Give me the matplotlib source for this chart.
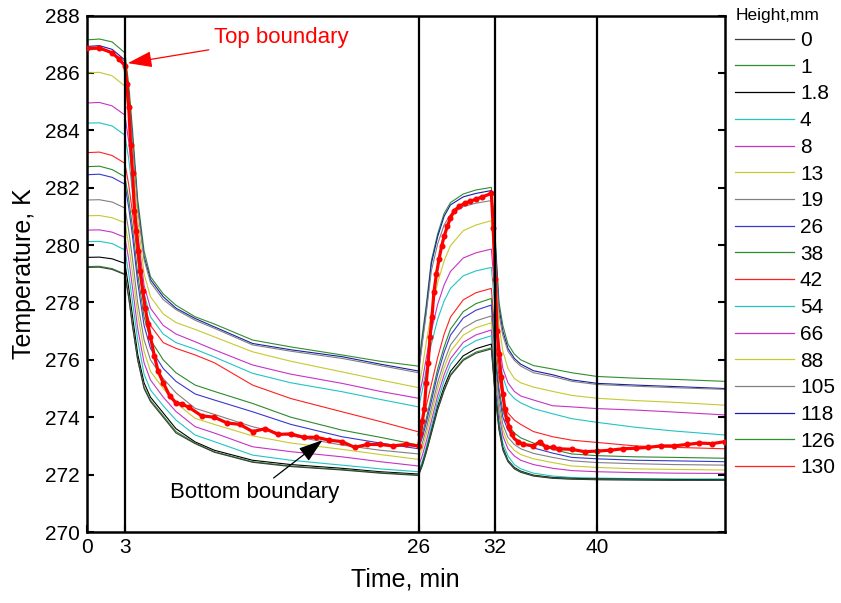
import matplotlib
matplotlib.use('Agg')
import matplotlib.pyplot as plt
from matplotlib.lines import Line2D

plt.rcParams['font.family'] = ['Liberation Sans', 'DejaVu Sans']

# ---------------- data ----------------
time_min = [0, 1, 2, 3, 3.3, 3.6, 4, 4.5, 5, 6, 7, 8.5, 10, 13, 16, 20, 23, 26,
            26.3, 26.6, 27, 27.5, 28, 28.5, 29.5, 30.5, 31.7,
            32, 32.3, 32.6, 33, 33.5, 34, 35, 36.5, 38, 40, 43, 46, 50]

temp_h0 = [279.22, 279.23, 279.15, 278.97, 278.15, 277.15, 276.0, 275.0, 274.55, 274.0, 273.45, 273.08, 272.78, 272.43, 272.28, 272.16, 272.05, 271.97,
           272.32, 272.76, 273.43, 274.26, 274.92, 275.45, 275.98, 276.23, 276.38,
           274.75, 273.55, 272.85, 272.45, 272.2, 272.08, 271.95, 271.87, 271.84, 271.82, 271.81, 271.8, 271.8]
temp_h1 = [279.25, 279.26, 279.18, 278.99, 278.2, 277.2, 276.0, 275.05, 274.6, 274.05, 273.5, 273.1, 272.8, 272.45, 272.3, 272.18, 272.07, 271.99,
           272.34, 272.79, 273.45, 274.29, 274.96, 275.49, 276.02, 276.27, 276.42,
           274.8, 273.6, 272.9, 272.48, 272.22, 272.1, 271.96, 271.88, 271.85, 271.83, 271.82, 271.81, 271.8]
temp_h1_8 = [279.57, 279.58, 279.52, 279.36, 278.5, 277.5, 276.2, 275.2, 274.7, 274.15, 273.6, 273.14, 272.85, 272.5, 272.35, 272.22, 272.1, 272.02,
             272.38, 272.84, 273.52, 274.38, 275.06, 275.6, 276.14, 276.39, 276.55,
             274.9, 273.7, 272.95, 272.5, 272.25, 272.12, 271.98, 271.9, 271.87, 271.85, 271.84, 271.83, 271.82]
temp_h4 = [280.12, 280.13, 280.05, 279.83, 279.0, 278.0, 276.7, 275.5, 274.95, 274.4, 273.9, 273.38, 273.15, 272.68, 272.5, 272.33, 272.2, 272.1,
           272.48, 272.95, 273.66, 274.56, 275.28, 275.84, 276.41, 276.67, 276.84,
           275.1, 273.9, 273.1, 272.65, 272.35, 272.2, 272.05, 271.95, 271.9, 271.88, 271.86, 271.85, 271.85]
temp_h8 = [280.52, 280.53, 280.45, 280.27, 279.5, 278.5, 277.1, 275.9, 275.3, 274.7, 274.2, 273.67, 273.45, 272.97, 272.8, 272.62, 272.45, 272.3,
           272.68, 273.15, 273.86, 274.76, 275.48, 276.04, 276.61, 276.87, 277.04,
           275.3, 274.1, 273.35, 272.9, 272.65, 272.5, 272.35, 272.22, 272.14, 272.1, 272.07, 272.05, 272.04]
temp_h13 = [281.02, 281.03, 280.95, 280.78, 280.0, 279.0, 277.6, 276.3, 275.6, 275.0, 274.5, 273.96, 273.75, 273.35, 273.1, 272.88, 272.7, 272.53,
            272.91, 273.39, 274.1, 275.01, 275.72, 276.29, 276.86, 277.12, 277.29,
            275.5, 274.3, 273.55, 273.1, 272.85, 272.7, 272.55, 272.42, 272.3, 272.25, 272.2, 272.18, 272.16]
temp_h19 = [281.57, 281.58, 281.5, 281.29, 280.5, 279.5, 278.0, 276.7, 276.0, 275.35, 274.85, 274.31, 274.1, 273.67, 273.35, 273.03, 272.85, 272.72,
            273.1, 273.59, 274.31, 275.22, 275.94, 276.52, 277.1, 277.36, 277.53,
            275.7, 274.5, 273.75, 273.3, 273.05, 272.9, 272.74, 272.6, 272.48, 272.42, 272.38, 272.35, 272.33]
temp_h26 = [282.45, 282.47, 282.36, 282.12, 281.3, 280.3, 278.7, 277.2, 276.4, 275.7, 275.25, 274.81, 274.6, 274.19, 273.75, 273.32, 273.1, 272.9,
            273.3, 273.8, 274.55, 275.51, 276.26, 276.86, 277.46, 277.73, 277.91,
            276.0, 274.8, 274.0, 273.55, 273.28, 273.12, 272.93, 272.75, 272.6, 272.55, 272.5, 272.48, 272.45]
temp_h38 = [282.73, 282.75, 282.63, 282.38, 281.6, 280.6, 279.0, 277.5, 276.7, 276.0, 275.55, 275.12, 274.9, 274.48, 274.0, 273.55, 273.3, 273.03,
            273.44, 273.95, 274.72, 275.69, 276.45, 277.07, 277.68, 277.96, 278.14,
            276.3, 275.0, 274.2, 273.75, 273.45, 273.28, 273.1, 272.88, 272.72, 272.66, 272.62, 272.6, 272.57]
temp_h42 = [283.22, 283.24, 283.12, 282.85, 282.1, 281.1, 279.5, 277.9, 277.2, 276.6, 276.4, 276.17, 275.9, 275.12, 274.65, 274.19, 273.85, 273.49,
            273.89, 274.39, 275.14, 276.09, 276.89, 277.49, 278.09, 278.34, 278.49,
            276.8, 275.4, 274.6, 274.15, 273.9, 273.75, 273.5, 273.32, 273.2, 273.12, 273.0, 272.95, 272.9]
temp_h54 = [284.25, 284.26, 284.15, 283.83, 283.0, 281.8, 280.0, 278.3, 277.5, 276.9, 276.6, 276.37, 276.1, 275.53, 275.2, 274.89, 274.62, 274.36,
            274.94, 275.67, 276.55, 277.42, 278.05, 278.49, 278.93, 279.1, 279.22,
            277.7, 276.2, 275.4, 274.9, 274.65, 274.5, 274.3, 274.12, 273.95, 273.82, 273.65, 273.52, 273.38]
temp_h66 = [284.95, 284.97, 284.85, 284.53, 283.6, 282.3, 280.4, 278.6, 277.8, 277.2, 276.9, 276.63, 276.35, 275.82, 275.5, 275.18, 274.9, 274.66,
            275.28, 276.06, 277.0, 277.94, 278.61, 279.08, 279.55, 279.73, 279.86,
            278.2, 276.6, 275.7, 275.2, 274.9, 274.74, 274.6, 274.4, 274.36, 274.3, 274.25, 274.18, 274.08]
temp_h88 = [286.0, 286.02, 285.9, 285.54, 284.6, 283.0, 280.9, 279.0, 278.2, 277.6, 277.3, 277.06, 276.8, 276.28, 275.95, 275.58, 275.3, 275.03,
            275.73, 276.6, 277.65, 278.7, 279.45, 279.98, 280.5, 280.7, 280.85,
            279.0, 277.2, 276.3, 275.7, 275.35, 275.2, 275.05, 274.9, 274.76, 274.66, 274.58, 274.52, 274.42]
temp_h105 = [286.8, 286.83, 286.7, 286.4, 285.2, 283.6, 281.3, 279.5, 278.7, 278.1, 277.75, 277.38, 277.1, 276.52, 276.3, 276.05, 275.8, 275.55,
             276.6, 277.6, 279.1, 280.05, 280.7, 281.07, 281.34, 281.46, 281.55,
             279.8, 277.6, 276.85, 276.3, 275.98, 275.78, 275.55, 275.42, 275.25, 275.14, 275.08, 275.03, 274.97]
temp_h118 = [286.92, 286.95, 286.82, 286.45, 285.3, 283.7, 281.4, 279.6, 278.8, 278.2, 277.8, 277.44, 277.15, 276.57, 276.35, 276.11, 275.85, 275.61,
             276.7, 277.75, 279.35, 280.3, 281.0, 281.4, 281.68, 281.8, 281.9,
             280.1, 277.8, 277.0, 276.4, 276.05, 275.85, 275.62, 275.48, 275.3, 275.18, 275.12, 275.07, 275.0]
temp_h126 = [287.15, 287.18, 287.08, 286.7, 285.6, 284.0, 281.6, 279.8, 278.9, 278.3, 277.9, 277.5, 277.25, 276.69, 276.45, 276.17, 275.95, 275.78,
             276.9, 277.9, 279.45, 280.4, 281.1, 281.48, 281.78, 281.92, 282.01,
             280.3, 278.0, 277.2, 276.55, 276.2, 276.0, 275.8, 275.68, 275.55, 275.42, 275.36, 275.32, 275.25]

# 130 mm (boundary) line, read more densely since it is drawn thick with dots
time_h130 = [0, 1, 2, 2.5, 3, 3.15, 3.3, 3.45, 3.6, 3.75, 3.9, 4.05, 4.2, 4.4, 4.6, 4.8, 5.0, 5.3, 5.6, 6.0, 6.5, 7, 7.5, 8,
             9, 10, 11, 12, 13, 14, 15, 16, 17, 18, 19, 20, 21, 22, 23, 24, 25, 26,
             26.15, 26.3, 26.45, 26.6, 26.75, 26.9, 27.05, 27.2, 27.4, 27.6, 27.8, 28.0, 28.25, 28.5, 28.8, 29.2, 29.6,
             30.0, 30.5, 31.0, 31.7, 31.85, 32.0, 32.15, 32.3, 32.45, 32.6, 32.75, 32.9, 33.1, 33.3, 33.5, 33.8,
             34.2, 34.6, 35, 35.5, 36, 36.5, 37, 38, 39, 40, 41, 42, 43, 44, 45, 46, 47, 48, 49, 50]
temp_h130 = [286.85, 286.87, 286.7, 286.5, 286.25, 285.6, 284.8, 283.5, 282.5, 281.2, 280.5, 279.8, 279.1, 278.4, 277.8, 277.25, 276.8, 276.15, 275.6, 275.2, 274.75, 274.5, 274.45, 274.35,
             274.05, 274.0, 273.8, 273.75, 273.5, 273.6, 273.4, 273.42, 273.3, 273.3, 273.2, 273.15, 272.95, 273.05, 273.05, 273.0, 273.05, 273.0,
             273.4, 273.88, 274.3, 275.2, 275.9, 276.8, 277.5, 278.35, 279.0, 279.5, 279.95, 280.3, 280.65, 280.95, 281.2, 281.35, 281.45,
             281.52, 281.6, 281.68, 281.8, 280.6, 278.8, 277.0, 276.2, 275.4, 274.8, 274.3, 273.95, 273.65, 273.4, 273.25, 273.15,
             273.05, 273.03, 273.0, 273.15, 272.95, 272.95, 272.9, 272.88, 272.8, 272.82, 272.85, 272.9, 272.92, 272.95, 273.0, 273.0, 273.05, 273.1, 273.08, 273.15]

height_labels = ['0', '1', '1.8', '4', '8', '13', '19', '26', '38', '42',
                 '54', '66', '88', '105', '118', '126', '130']
series_colors = ['#3c3c3c', '#2f8f2f', '#000000', '#22c4c4', '#c633c6', '#c8c830',
                 '#808080', '#3838d0', '#2c8a2c', '#ff2020', '#22c4c4', '#c633c6',
                 '#c8c830', '#808080', '#1c1ca8', '#2f8f2f', '#ff2020']
marker_times = [3, 26, 32, 40]
x_ticks = [0, 3, 26, 32, 40]
y_ticks = [270, 272, 274, 276, 278, 280, 282, 284, 286, 288]

thin_series = [temp_h0, temp_h1, temp_h1_8, temp_h4, temp_h8, temp_h13, temp_h19,
               temp_h26, temp_h38, temp_h42, temp_h54, temp_h66, temp_h88,
               temp_h105, temp_h118, temp_h126]

# ---------------- figure ----------------
W, H = 841, 603
fig = plt.figure(figsize=(W / 100, H / 100), dpi=100)
x0, x1, ytop, ybot = 86.6, 725, 15.5, 532
ax = fig.add_axes([x0 / W, 1 - ybot / H, (x1 - x0) / W, (ybot - ytop) / H])

for vals, col in reversed(list(zip(thin_series, series_colors[:-1]))):
    ax.plot(time_min, vals, color=col, lw=0.8, zorder=2)

ax.plot(time_h130, temp_h130, color='#ff0000', lw=2.3, marker='o', ms=3.3,
        markevery=0.009, zorder=4)

for tv in marker_times:
    ax.axvline(tv, color='black', lw=1.6, zorder=5)

ax.set_xlim(0, 50)
ax.set_ylim(270, 288)
ax.set_xticks(x_ticks)
ax.set_yticks(y_ticks)
ax.tick_params(direction='in', length=5, width=1.5, labelsize=15, right=True,
               top=False, pad=5)
ax.tick_params(axis='x', pad=4)
for sp in ax.spines.values():
    sp.set_linewidth(1.8)

ax.set_xlabel('Time, min', fontsize=18, labelpad=8)
ax.set_ylabel('Temperature, K', fontsize=18, labelpad=6)

ax.annotate('Top boundary', xy=(3.23, 286.34), xytext=(10.0, 287.22),
            color='#ff0000', fontsize=16, va='center', ha='left',
            arrowprops=dict(arrowstyle='-|>,head_length=0.75,head_width=0.25',
                            color='#ff0000', lw=0.9, shrinkA=2, shrinkB=0,
                            mutation_scale=20), zorder=6)
ax.annotate('Bottom boundary', xy=(18.48, 273.2), xytext=(6.5, 271.36),
            color='black', fontsize=16, va='center', ha='left',
            arrowprops=dict(arrowstyle='-|>,head_length=0.75,head_width=0.25',
                            color='black', lw=0.9, shrinkA=2, shrinkB=0,
                            mutation_scale=20), zorder=6)

handles = [Line2D([], [], color=c, lw=0.9) for c in series_colors]
leg = fig.legend(handles, height_labels, loc='upper left',
                 bbox_to_anchor=(727 / W, 1.0), frameon=True, fontsize=15,
                 title='Height,mm', title_fontsize=12.5, handlelength=2.8,
                 handletextpad=0.3, labelspacing=0.37, borderpad=0.4,
                 borderaxespad=0, alignment='left', fancybox=False)
leg.get_frame().set_edgecolor('none')
leg.get_frame().set_facecolor('white')
leg.get_frame().set_alpha(1)

fig.savefig('out.png', dpi=100)
